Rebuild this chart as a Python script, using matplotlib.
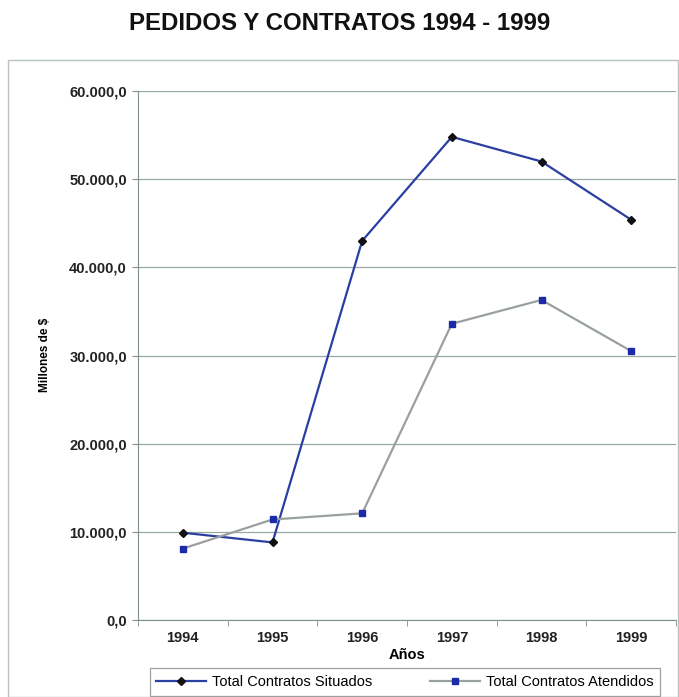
import matplotlib
matplotlib.use("Agg")
import matplotlib.pyplot as plt
from matplotlib.patches import Rectangle
from matplotlib.ticker import FuncFormatter, FixedLocator

years = ["1994", "1995", "1996", "1997", "1998", "1999"]
situados = [9900, 8800, 43000, 54800, 52000, 45400]
atendidos = [8100, 11400, 12100, 33600, 36300, 30500]
yticks = [0, 10000, 20000, 30000, 40000, 50000, 60000]

plt.rcParams['font.family'] = ['Liberation Sans', 'DejaVu Sans']

fig = plt.figure(figsize=(6.79, 6.97), dpi=100)
fig.patch.set_facecolor('white')

# outer chart border
fig.add_artist(Rectangle((8/679, 0.0), 1 - 8/679 - 0.001, 1 - 60/697, transform=fig.transFigure,
                         fill=False, edgecolor='#b8c4c0', linewidth=1.0))

fig.text(0.5, 1 - 24/697, "PEDIDOS Y CONTRATOS 1994 - 1999", ha='center', va='center',
         fontsize=17.3, fontweight='bold', color='#111111')

ax = fig.add_axes([138/679, 1 - 620/697, (676 - 138)/679, (620 - 91)/697])
x = list(range(len(years)))
ax.plot(x, situados, color='#2a3fa0', linewidth=1.6, marker='D', markersize=4.5,
        markerfacecolor='#111111', markeredgecolor='#111111', label='Total Contratos Situados', zorder=3)
ax.plot(x, atendidos, color='#9aa0a0', linewidth=1.6, marker='s', markersize=4.8,
        markerfacecolor='#1a2aa8', markeredgecolor='#1a2aa8', label='Total Contratos Atendidos', zorder=3)

ax.set_xlim(-0.5, len(years) - 0.5)
ax.set_ylim(0, 60000)
ax.set_yticks(yticks)
ax.yaxis.set_major_formatter(FuncFormatter(lambda v, p: f"{v:,.1f}".replace(",", "X").replace(".", ",").replace("X", ".")))
ax.set_xticks(x)
ax.set_xticklabels(years)
ax.xaxis.set_minor_locator(FixedLocator([i - 0.5 for i in range(len(years) + 1)]))
ax.tick_params(axis='x', which='major', length=0, pad=8, labelsize=10.5)
ax.tick_params(axis='x', which='minor', length=4, color='#888888')
ax.tick_params(axis='y', length=4, color='#888888', labelsize=10.5, pad=4)
for lab in ax.get_xticklabels() + ax.get_yticklabels():
    lab.set_fontweight('bold')
    lab.set_color('#222222')

ax.grid(axis='y', color='#9aa8a4', linewidth=0.9)
ax.set_axisbelow(True)
for s in ['top', 'right']:
    ax.spines[s].set_visible(False)
ax.spines['left'].set_color('#7f8f8c')
ax.spines['bottom'].set_color('#7f8f8c')

ax.set_xlabel("Años", fontsize=10.5, fontweight='bold', labelpad=2)
fig.text(45/679, 1 - 355/697, "Millones de $", rotation=90, ha='center', va='center',
         fontsize=8.5, fontweight='bold')

leg = fig.legend(loc='center', bbox_to_anchor=(405/679, 1 - 682/697), ncol=2,
                 frameon=True, fancybox=False, fontsize=10.5, handlelength=3.4,
                 columnspacing=4.0, borderpad=0.45, handletextpad=0.4, borderaxespad=0)
leg.get_frame().set_edgecolor('#888888')
leg.get_frame().set_linewidth(0.9)

fig.savefig("out.png", dpi=100, facecolor='white')
